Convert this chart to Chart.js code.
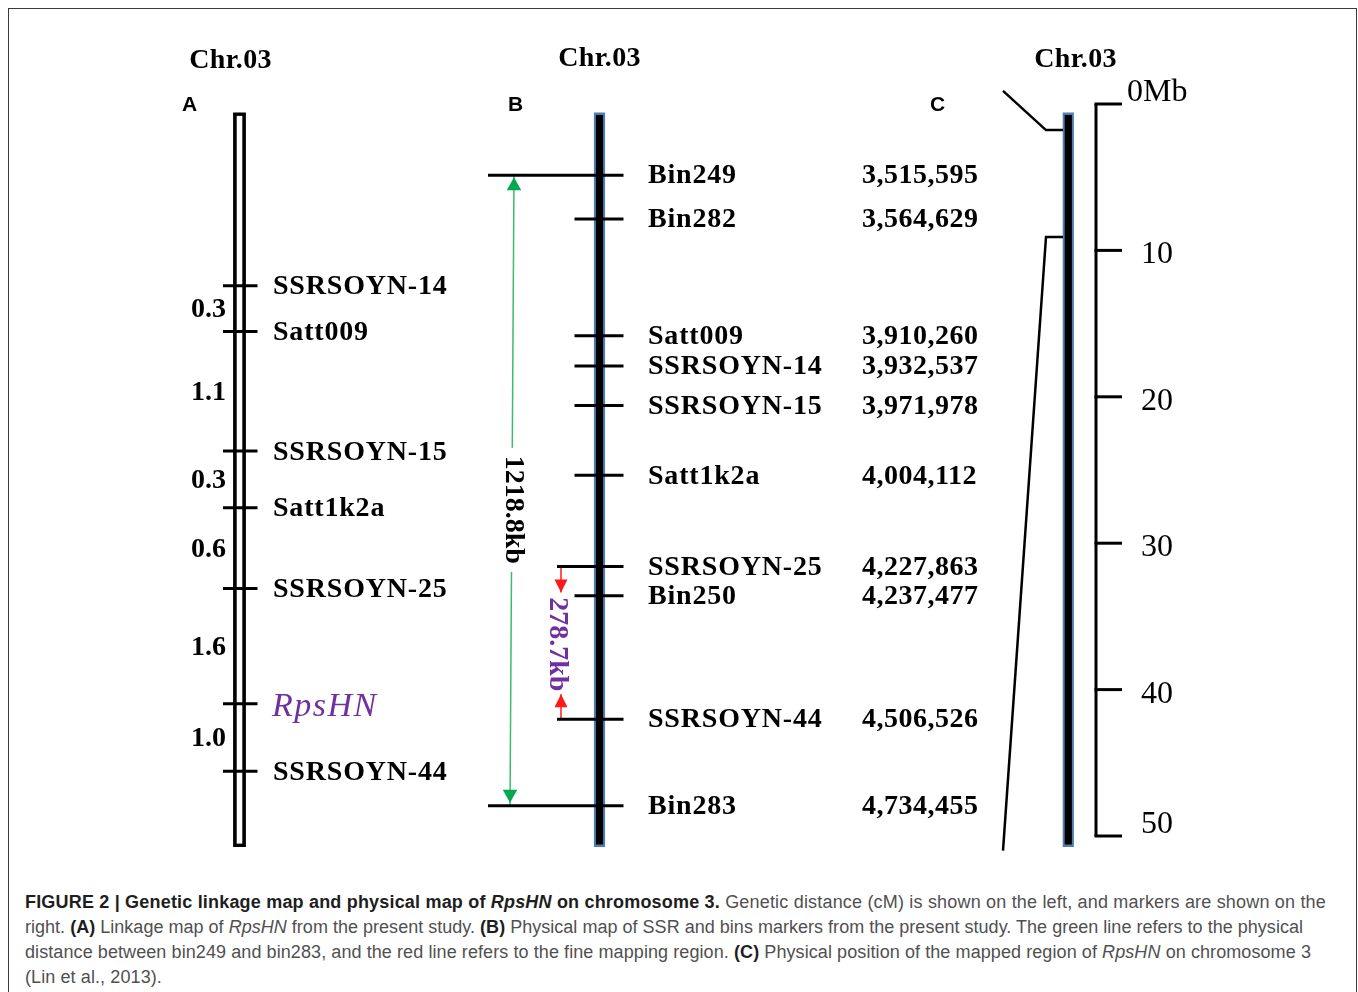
<!DOCTYPE html>
<html>
<head>
<meta charset="utf-8">
<script src="https://cdn.jsdelivr.net/npm/chart.js@4.4.1/dist/chart.umd.min.js"></script>
<style>
html,body{margin:0;padding:0;background:#fff;}
body{width:1358px;height:992px;position:relative;overflow:hidden;}
#frame{position:absolute;left:8px;top:8px;width:1349px;height:1100px;border:1px solid #3a3a3a;box-sizing:border-box;}
#wrap{position:absolute;left:0;top:0;width:1358px;height:880px;}
#caption{position:absolute;left:25px;top:890px;font-family:"Liberation Sans",Arial,sans-serif;font-size:18px;line-height:25px;color:#505050;}
#caption .ln{display:inline-block;white-space:nowrap;}
#caption b{color:#1e1e1e;}
</style>
</head>
<body>
<div id="frame"></div>
<div id="wrap"><canvas id="c" width="1358" height="880"></canvas></div>
<div id="caption">
<span class="ln"><b>FIGURE 2 | Genetic linkage map and physical map of <i>RpsHN</i> on chromosome 3.</b> Genetic distance (cM) is shown on the left, and markers are shown on the</span><br>
<span class="ln">right. <b>(A)</b> Linkage map of <i>RpsHN</i> from the present study. <b>(B)</b> Physical map of SSR and bins markers from the present study. The green line refers to the physical</span><br>
<span class="ln">distance between bin249 and bin283, and the red line refers to the fine mapping region. <b>(C)</b> Physical position of the mapped region of <i>RpsHN</i> on chromosome 3</span><br>
<span class="ln">(Lin et al., 2013).</span>
</div>
<script>
// ---------------- DATA ----------------
const chromosomeTitle = 'Chr.03';
const panelLetters = ['A', 'B', 'C'];

// Panel A: genetic linkage map (drawn position along the bar: 0 = top, 100 = bottom)
const markersA = ['SSRSOYN-14', 'Satt009', 'SSRSOYN-15', 'Satt1k2a', 'SSRSOYN-25', 'RpsHN', 'SSRSOYN-44'];
const mapPosA = [23.6, 29.8, 46.1, 53.8, 64.8, 80.5, 89.7];
const intervalsA = ['0.3', '1.1', '0.3', '0.6', '1.6', '1.0']; // cM between neighbouring markers
const geneA = 'RpsHN';

// Panel B: physical map
const markersB = ['Bin249', 'Bin282', 'Satt009', 'SSRSOYN-14', 'SSRSOYN-15', 'Satt1k2a', 'SSRSOYN-25', 'Bin250', 'SSRSOYN-44', 'Bin283'];
const positionsB = [3515595, 3564629, 3910260, 3932537, 3971978, 4004112, 4227863, 4237477, 4506526, 4734455];
const mapPosB = [8.55, 14.5, 30.4, 34.5, 39.9, 49.4, 61.8, 65.8, 82.6, 94.4];
const totalSpan = ['Bin249', 'Bin283'];
const totalSpanLabel = '1218.8kb';
const fineSpan = ['SSRSOYN-25', 'SSRSOYN-44'];
const fineSpanLabel = '278.7kb';

// Panel C: chromosome in Mb
const mbTicks = [0, 10, 20, 30, 40, 50];
const mbTickLabels = ['0Mb', '10', '20', '30', '40', '50'];
const regionMb = [1.78, 9.08];

// ---------------- LAYOUT (positions / sizes / styles) ----------------
const LAY = {
  canvasW: 1358, canvasH: 880,
  barTopPx: 112.5, barBottomPx: 847,
  mbZeroPx: 104, mbPxPerUnit: 14.64,
  xA: 239.5, xB: 599.5, xC: 1068.3, xScaleC: 1096,
  tickA: [223, 257.5],
  tickBRight: 623.5, tickBLeft: {long: 488, mid: 557, short: 574.5},
  greenX: [514, 510], redX: 561,
  totalLabelPos: 54.1, // map units
  connector: {outer: 1003, elbow: 1046, bar: 1063, outerMb: [-0.9, 51.0]},
  scaleTickEnd: 1122,
  titleX: [230.5, 599.5, 1075.5], titleY: [68, 66, 67],
  letterX: [182, 508, 930], letterY: 111,
  labelAX: 273, intervalAX: 226, labelBX: 648, numberBX: 862,
  mbLabelX0: 1127, mbLabelX: 1141,
  blue: '#4f7fb0', green: '#3dbb6a', greenHead: '#00a84f', red: '#ff1a1a', purple: '#7030a0'
};
const SERIF = '"Liberation Serif","Times New Roman",serif';
const SANS = '"Liberation Sans",Arial,sans-serif';

const pxPerMap = (LAY.barBottomPx - LAY.barTopPx) / 100;

// ---------------- DATASETS ----------------
function seg(pts, color, width, axis) {
  return {
    data: pts.map(p => ({x: p[0], y: p[1]})),
    showLine: true, borderColor: color, backgroundColor: color,
    borderWidth: width, pointRadius: 0, pointHoverRadius: 0,
    yAxisID: axis || 'y', clip: false, borderCapStyle: 'butt', borderJoinStyle: 'miter', tension: 0
  };
}
const datasets = [];
// Panel A marker ticks
mapPosA.forEach(v => datasets.push(seg([[LAY.tickA[0], v], [LAY.tickA[1], v]], '#000', 3)));
// Panel B marker ticks
markersB.forEach((m, i) => {
  let left = LAY.tickBLeft.short;
  if (totalSpan.includes(m)) left = LAY.tickBLeft.long;
  else if (fineSpan.includes(m)) left = LAY.tickBLeft.mid;
  datasets.push(seg([[left, mapPosB[i]], [LAY.tickBRight, mapPosB[i]]], '#000', 3));
});
const posOf = name => mapPosB[markersB.indexOf(name)];
// green total span line
datasets.push(seg([[LAY.greenX[0], posOf(totalSpan[0])], [LAY.greenX[1], posOf(totalSpan[1])]], LAY.green, 1.5));
// red fine span line
datasets.push(seg([[LAY.redX, posOf(fineSpan[0])], [LAY.redX, posOf(fineSpan[1])]], LAY.red, 1.5));
// Panel C scale axis line with end hooks and ticks
datasets.push(seg([[LAY.xScaleC, mbTicks[0]], [LAY.xScaleC, mbTicks[mbTicks.length - 1]]], '#000', 3, 'yMb'));
mbTicks.forEach(t => datasets.push(seg([[LAY.xScaleC - 1.5, t], [LAY.scaleTickEnd, t]], '#000', 3, 'yMb')));
// Panel C connector lines to the mapped region
datasets.push(seg([[LAY.connector.outer, LAY.connector.outerMb[0]], [LAY.connector.elbow, regionMb[0]], [LAY.connector.bar, regionMb[0]]], '#000', 2.5, 'yMb'));
datasets.push(seg([[LAY.connector.bar, regionMb[1]], [LAY.connector.elbow, regionMb[1]], [LAY.connector.outer, LAY.connector.outerMb[1]]], '#000', 2.5, 'yMb'));

// ---------------- PLUGINS ----------------
function text(ctx, s, x, y, font, color, align, spacing) {
  ctx.save();
  ctx.font = font; ctx.fillStyle = color; ctx.textAlign = align || 'left';
  ctx.textBaseline = 'alphabetic'; ctx.letterSpacing = spacing || '0px';
  ctx.fillText(s, x, y);
  ctx.restore();
}
function tri(ctx, x, tipY, dir, w, h, color) { // dir: -1 up, +1 down
  ctx.save(); ctx.fillStyle = color; ctx.beginPath();
  ctx.moveTo(x, tipY);
  ctx.lineTo(x - w / 2, tipY - dir * h);
  ctx.lineTo(x + w / 2, tipY - dir * h);
  ctx.closePath(); ctx.fill(); ctx.restore();
}
function vtext(ctx, s, cx, cy, font, color, spacing) {
  ctx.save();
  ctx.translate(cx, cy); ctx.rotate(Math.PI / 2);
  ctx.font = font; ctx.fillStyle = color; ctx.textAlign = 'center'; ctx.textBaseline = 'alphabetic';
  ctx.letterSpacing = spacing || '0px';
  ctx.fillText(s, 0, 9.3);
  ctx.restore();
}

const barsPlugin = {
  id: 'bars',
  beforeDatasetsDraw(chart) {
    const {ctx, scales: {y}} = chart;
    const top = y.getPixelForValue(0), bot = y.getPixelForValue(100);
    ctx.save();
    // Panel A: open outlined bar
    ctx.fillStyle = '#000';
    ctx.fillRect(LAY.xA - 6.4, top, 12.8, bot - top);
    ctx.fillStyle = '#fff';
    ctx.fillRect(LAY.xA - 2.8, top + 3.4, 5.6, bot - top - 6.8);
    // Panels B and C: black bar with blue outline
    [LAY.xB, LAY.xC].forEach(x => {
      ctx.fillStyle = LAY.blue;
      ctx.fillRect(x - 5.6, top, 11.2, bot - top);
      ctx.fillStyle = '#000';
      ctx.fillRect(x - 3.6, top + 2.5, 7.2, bot - top - 5);
    });
    ctx.restore();
  }
};

const annotPlugin = {
  id: 'annot',
  afterDatasetsDraw(chart) {
    const {ctx, scales: {y, yMb}} = chart;
    const B = v => y.getPixelForValue(v);
    const f28 = 'bold 28px ' + SERIF;
    // titles and panel letters
    LAY.titleX.forEach((x, i) => text(ctx, chromosomeTitle, x, LAY.titleY[i], f28, '#000', 'center', '0.3px'));
    panelLetters.forEach((l, i) => text(ctx, l, LAY.letterX[i], LAY.letterY, 'bold 21px ' + SANS, '#000'));
    // Panel A labels
    markersA.forEach((m, i) => {
      const py = B(mapPosA[i]);
      if (m === geneA) text(ctx, m, LAY.labelAX - 1, py + 12, 'italic 34px ' + SERIF, LAY.purple, 'left', '1.5px');
      else text(ctx, m, LAY.labelAX, py + 8.4, f28, '#000', 'left', '0.8px');
    });
    intervalsA.forEach((d, i) => {
      const mid = (B(mapPosA[i]) + B(mapPosA[i + 1])) / 2;
      text(ctx, d, LAY.intervalAX, mid + 8.5, f28, '#000', 'right');
    });
    // Panel B labels
    markersB.forEach((m, i) => {
      const py = B(mapPosB[i]);
      text(ctx, m, LAY.labelBX, py + 8.2, f28, '#000', 'left', '0.8px');
      text(ctx, positionsB[i].toLocaleString('en-US'), LAY.numberBX, py + 8.2, f28, '#000', 'left', '0.5px');
    });
    // green span: gap, arrowheads, label
    const gTop = B(posOf(totalSpan[0])), gBot = B(posOf(totalSpan[1]));
    const gy = B(LAY.totalLabelPos);
    ctx.save(); ctx.font = f28; const gw = ctx.measureText(totalSpanLabel).width; ctx.restore();
    ctx.fillStyle = '#fff';
    ctx.fillRect(LAY.greenX[0] - 9, gy - gw / 2 - 8, 18, gw + 16);
    tri(ctx, LAY.greenX[0], gTop + 2, -1, 14.5, 13, LAY.greenHead);
    tri(ctx, LAY.greenX[1], gBot - 3, 1, 14.5, 13, LAY.greenHead);
    vtext(ctx, totalSpanLabel, 515, gy, f28, '#000');
    // red span
    const rTop = B(posOf(fineSpan[0])), rBot = B(posOf(fineSpan[1]));
    const rTipTop = rTop + 26, rTipBot = rBot - 25;
    ctx.fillStyle = '#fff';
    ctx.fillRect(LAY.redX - 8, rTipTop, 16, rTipBot - rTipTop);
    tri(ctx, LAY.redX, rTipTop, 1, 13, 13, LAY.red);
    tri(ctx, LAY.redX, rTipBot, -1, 13, 13, LAY.red);
    vtext(ctx, fineSpanLabel, LAY.redX - 2, (rTop + rBot) / 2 + 1.5, f28, LAY.purple);
    // Panel C scale labels (end labels sit above their hooks, inner labels just below their ticks)
    const last = mbTicks.length - 1;
    mbTicks.forEach((t, i) => {
      const py = yMb.getPixelForValue(t);
      const dy = (i === 0 || i === last) ? -3.5 : 13;
      text(ctx, mbTickLabels[i], i === 0 ? LAY.mbLabelX0 : LAY.mbLabelX, py + dy, '32px ' + SERIF, '#000');
    });
  }
};

new Chart(document.getElementById('c'), {
  type: 'scatter',
  data: {datasets},
  options: {
    responsive: false, animation: false, events: [],
    layout: {padding: 0},
    plugins: {legend: {display: false}, tooltip: {enabled: false}},
    scales: {
      x: {type: 'linear', min: 0, max: LAY.canvasW, display: false},
      y: {type: 'linear', reverse: true, display: false,
          min: -LAY.barTopPx / pxPerMap, max: (LAY.canvasH - LAY.barTopPx) / pxPerMap},
      yMb: {type: 'linear', reverse: true, display: false,
          min: -LAY.mbZeroPx / LAY.mbPxPerUnit, max: (LAY.canvasH - LAY.mbZeroPx) / LAY.mbPxPerUnit}
    }
  },
  plugins: [barsPlugin, annotPlugin]
});

// caption line fitting
const capTargets = [1301, 1278, 1286];
const lines = document.querySelectorAll('#caption .ln');
let lsSum = 0;
lines.forEach((el, i) => {
  if (i >= capTargets.length) return;
  const w = el.getBoundingClientRect().width;
  const ls = (capTargets[i] - w) / el.textContent.length;
  lsSum += ls;
  el.style.letterSpacing = ls + 'px';
});
lines[3].style.letterSpacing = (lsSum / 3) + 'px';
</script>
</body>
</html>
